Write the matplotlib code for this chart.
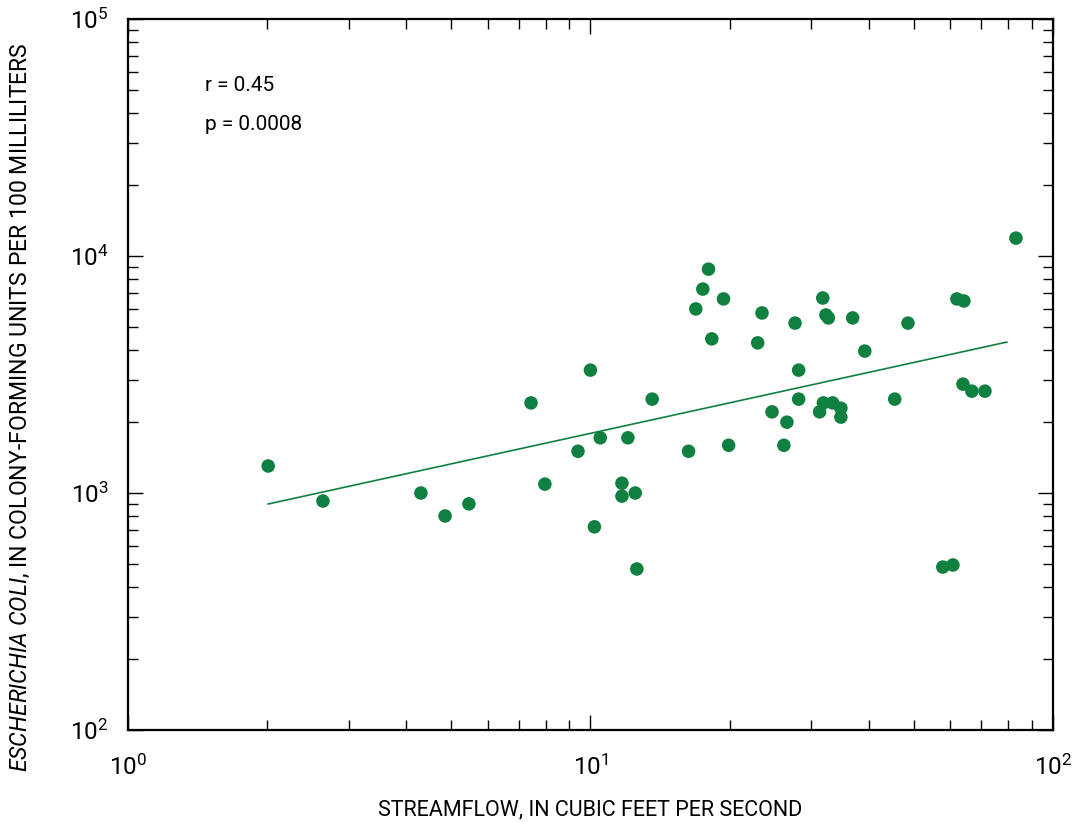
import numpy as np
import matplotlib
matplotlib.use('Agg')
import matplotlib.pyplot as plt
from matplotlib.ticker import LogLocator, FuncFormatter, NullFormatter

plt.rcParams['font.family'] = ['Roboto', 'DejaVu Sans']
plt.rcParams['mathtext.fontset'] = 'custom'
plt.rcParams['mathtext.rm'] = 'Roboto'
plt.rcParams['mathtext.it'] = 'Roboto:italic'

# streamflow (cfs) and E. coli (col/100 mL)
flow = [2.01, 2.64, 4.30, 4.85, 5.46, 7.44, 7.97, 9.40, 10.0, 10.2,
        10.5, 11.7, 11.7, 12.05, 12.5, 12.6, 13.6, 16.3, 16.9, 17.5,
        18.0, 18.3, 19.4, 19.9, 23.0, 23.5, 24.7, 26.2, 26.6, 27.7,
        28.2, 28.2, 31.3, 31.8, 31.9, 32.3, 32.7, 33.4, 34.8, 34.8,
        36.9, 39.2, 45.5, 48.6, 57.8, 60.8, 62.0, 64.2, 63.9, 66.8,
        71.3, 83.2]
ecoli = [1300, 925, 1000, 800, 900, 2400, 1090, 1500, 3300, 720,
         1710, 1100, 970, 1710, 1000, 478, 2490, 1500, 5980, 7250,
         8800, 4470, 6590, 1590, 4300, 5750, 2200, 1590, 1990, 5210,
         3300, 2490, 2200, 6650, 2400, 5640, 5480, 2400, 2280, 2090,
         5480, 3970, 2490, 5210, 487, 497, 6590, 6460, 2880, 2690,
         2690, 11900]

# fitted line: log10(y) = b0 + b1*log10(x)
fit_b0 = 2.824
fit_b1 = 0.4277
fit_x = [2.01, 79.5]

r_text = 'r = 0.45'
p_text = 'p = 0.0008'

green = '#108040'

fig = plt.figure(figsize=(10.78, 8.22), dpi=100)
ax = fig.add_axes([0.1187, 0.1119, 0.858, 0.865])

ax.scatter(flow, ecoli, s=95, color=green, edgecolors='none', zorder=3)
xf = np.array(fit_x)
ax.plot(xf, 10 ** (fit_b0 + fit_b1 * np.log10(xf)), color=green, linewidth=1.2)

ax.set_xscale('log')
ax.set_yscale('log')
ax.set_xlim(1, 100)
ax.set_ylim(100, 100000)

fmt = FuncFormatter(lambda v, pos: r'$\mathregular{10^{%d}}$' % round(np.log10(v)))
ax.xaxis.set_major_formatter(fmt)
ax.yaxis.set_major_formatter(fmt)
ax.xaxis.set_minor_locator(LogLocator(base=10, subs=np.arange(2, 10)))
ax.yaxis.set_minor_locator(LogLocator(base=10, subs=np.arange(2, 10)))
ax.xaxis.set_minor_formatter(NullFormatter())
ax.yaxis.set_minor_formatter(NullFormatter())

ax.tick_params(which='both', direction='in', top=True, right=True, width=1)
ax.tick_params(which='major', length=11)
ax.tick_params(which='minor', length=7)
ax.tick_params(axis='x', which='major', labelsize=17.5, pad=18)
ax.tick_params(axis='y', which='major', labelsize=17.5, pad=14)
for s in ax.spines.values():
    s.set_linewidth(1.6)

ax.set_xlabel('STREAMFLOW, IN CUBIC FEET PER SECOND', fontsize=15.5, labelpad=14)
ax.set_ylabel(r'$\mathit{ESCHERICHIA\ COLI}$, IN COLONY-FORMING UNITS PER 100 MILLILITERS',
              fontsize=16.6)
ax.yaxis.set_label_coords(-0.104, 0.454)

ax.text(0.083, 0.907, r_text, transform=ax.transAxes, fontsize=15, va='center')
ax.text(0.083, 0.852, p_text, transform=ax.transAxes, fontsize=15, va='center')

plt.savefig('out.png', dpi=100)
plt.close()
